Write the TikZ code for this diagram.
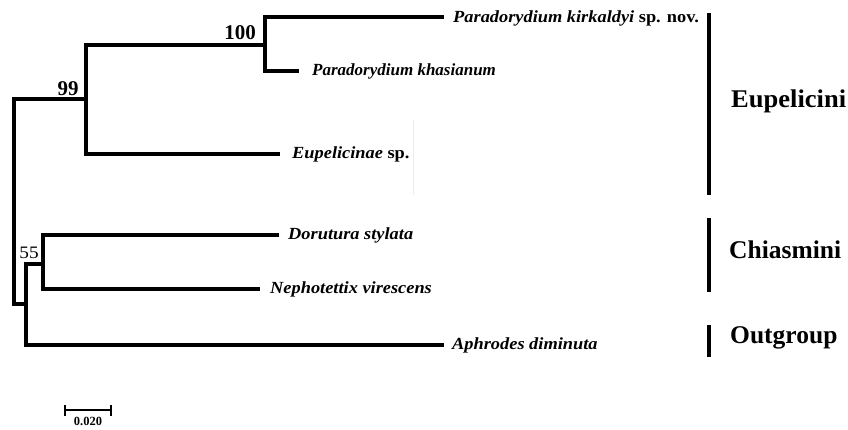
\documentclass[tikz,border=0pt]{standalone}
\usepackage{fontspec}
\setmainfont{Liberation Serif}
\begin{document}
\begin{tikzpicture}[x=1pt,y=-1pt,
  tree/.style={line width=3.2pt, line join=miter, line cap=rect},
  grpbar/.style={line width=3.4pt},
  taxon/.style={anchor=base west, inner sep=0pt, xscale=1.08, font=\fontsize{17}{17}\selectfont\bfseries\itshape},
  boot/.style={anchor=base, inner sep=0pt, font=\fontsize{21}{21}\selectfont\bfseries},
  bootl/.style={anchor=base, inner sep=0pt, xscale=1.1, font=\fontsize{17.5}{17.5}\selectfont},
  grp/.style={anchor=base west, inner sep=0pt, font=\fontsize{25.5}{25.5}\selectfont\bfseries},
  scl/.style={anchor=base, inner sep=0pt, font=\fontsize{12.5}{12.5}\selectfont\bfseries}]
\useasboundingbox (0,0) rectangle (848,429);

% internal nodes
\coordinate (rT) at (14,99);
\coordinate (rB) at (14,304);
\coordinate (n99T) at (86,45);
\coordinate (n99B) at (86,154);
\coordinate (n99M) at (86,99);
\coordinate (n100T) at (265,17);
\coordinate (n100B) at (265,71);
\coordinate (n100M) at (265,45);
\coordinate (n55T) at (26,264);
\coordinate (n55B) at (26,345);
\coordinate (n55M) at (26,304);
\coordinate (nDT) at (43,235);
\coordinate (nDB) at (43,289);
\coordinate (nDM) at (43,264);

% leaf tips
\coordinate (kirk) at (442,17);
\coordinate (khas) at (297,71);
\coordinate (eupe) at (278,154);
\coordinate (doru) at (277,235);
\coordinate (neph) at (258,289);
\coordinate (aphr) at (442,345);

% branches
\draw[tree] (kirk) -- (n100T) -- (n100B) -- (khas);
\draw[tree] (n100M) -- (n99T) -- (n99B) -- (eupe);
\draw[tree] (n99M) -- (rT) -- (rB) -- (n55M);
\draw[tree] (doru) -- (nDT) -- (nDB) -- (neph);
\draw[tree] (nDM) -- (n55T) -- (n55B) -- (aphr);

% faint artifact near Eupelicinae
\draw[black!7, line width=1pt] (413,120) -- (413,195);

% taxon labels
\node[taxon] (tkirk) at (453,22) {Paradorydium kirkaldyi\upshape\ sp. nov.};
\node[taxon, xscale=0.926] (tkhas) at (312,75.5) {Paradorydium khasianum};
\node[taxon] (teupe) at (292,158) {Eupelicinae\upshape\ sp.};
\node[taxon] (tdoru) at (288,239.5) {Dorutura stylata};
\node[taxon] (tneph) at (270,293.5) {Nephotettix virescens};
\node[taxon] (taphr) at (452,349.5) {Aphrodes diminuta};

% bootstrap values
\node[boot] (b100) at (240,39) {100};
\node[boot] (b99) at (68,95) {99};
\node[bootl] (b55) at (29,258) {55};

% group bars
\coordinate (g1t) at (709,13);
\coordinate (g1b) at (709,195);
\coordinate (g2t) at (709,218);
\coordinate (g2b) at (709,292);
\coordinate (g3t) at (709,325);
\coordinate (g3b) at (709,357);
\draw[grpbar] (g1t) -- (g1b);
\draw[grpbar] (g2t) -- (g2b);
\draw[grpbar] (g3t) -- (g3b);
\node[grp, xscale=1.04] (gEup) at (731,107) {Eupelicini};
\node[grp] (gChi) at (729,258) {Chiasmini};
\node[grp] (gOut) at (730,343) {Outgroup};

% scale bar
\coordinate (s1) at (65,410);
\coordinate (s2) at (111,410);
\draw[line width=2.4pt] (s1) -- (s2);
\draw[line width=2.4pt] (65,404.5) -- (65,415.5);
\draw[line width=2.4pt] (111,404.5) -- (111,415.5);
\node[scl] (slab) at (88,425) {0.020};
\end{tikzpicture}
\end{document}
